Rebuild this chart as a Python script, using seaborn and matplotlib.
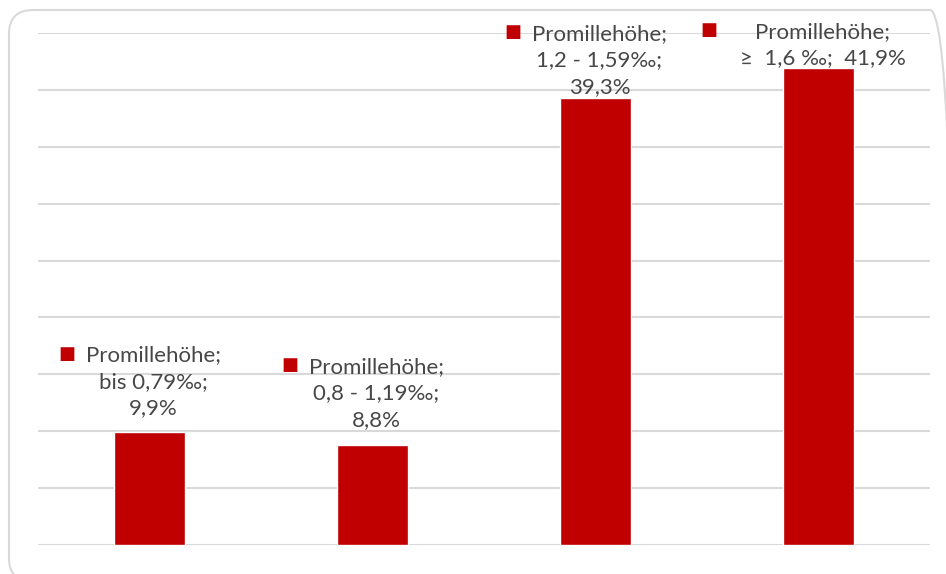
import matplotlib
matplotlib.use("Agg")
import matplotlib.pyplot as plt
import seaborn as sns
import pandas as pd
from matplotlib.patches import FancyBboxPatch
from matplotlib.transforms import IdentityTransform

# data
categories = ["bis 0,79‰", "0,8 - 1,19‰", "1,2 - 1,59‰", "≥  1,6 ‰"]
values = [9.9, 8.8, 39.3, 41.9]
series_name = "Promillehöhe"
two_line_label = [False, False, False, True]

# label placement (pixels from bar top) - Excel pushed the tall ones down
label_dy = [14, 15, 1, 0]
key_dx = [-11, -11, -11, -22]

bar_color = "#C00000"
text_color = "#474747"
grid_color = "#D9D9D9"

sns.set_style("white")
plt.rcParams["font.family"] = ["Lato", "DejaVu Sans"]

df = pd.DataFrame({"cat": categories, "val": values})

fig = plt.figure(figsize=(9.46, 5.74), dpi=100)
ax = fig.add_axes([38 / 946, 29 / 574, 892 / 946, 512 / 574])

sns.barplot(data=df, x="cat", y="val", color=bar_color, width=0.315,
            saturation=1, ax=ax, zorder=3)

ax.set_ylim(0, 45)
ax.set_yticks(range(0, 46, 5))
ax.yaxis.grid(True, color=grid_color, linewidth=1.5, zorder=0)
ax.set_axisbelow(True)
ax.tick_params(left=False, bottom=False, labelleft=False, labelbottom=False)
ax.set_xlabel("")
ax.set_ylabel("")
for s in ax.spines.values():
    s.set_visible(False)

# data labels with legend key
for i, (cat, v) in enumerate(zip(categories, values)):
    val_txt = f"{v:.1f}".replace(".", ",") + "%"
    if two_line_label[i]:
        txt = f"{series_name};\n{cat};  {val_txt}"
    else:
        txt = f"{series_name};\n{cat};\n{val_txt}"
    t = ax.annotate(txt, xy=(i, v), xytext=(4, label_dy[i]),
                    textcoords="offset pixels", ha="center", va="bottom",
                    fontsize=16, color=text_color, linespacing=1.4,
                    annotation_clip=False, zorder=5)
    ax.annotate("■", xy=(0, 1), xycoords=t, xytext=(key_dx[i], 1),
                textcoords="offset pixels", ha="right", va="top",
                fontsize=13, color=bar_color, family="DejaVu Sans",
                annotation_clip=False)

# rounded chart border (right and bottom edges run past the image)
border = FancyBboxPatch((9, -8), 945, 572,
                        boxstyle="round,pad=0,rounding_size=24",
                        transform=IdentityTransform(), fill=False,
                        edgecolor=grid_color, linewidth=1.5)
fig.patches.append(border)

fig.savefig("out.png", dpi=100)
